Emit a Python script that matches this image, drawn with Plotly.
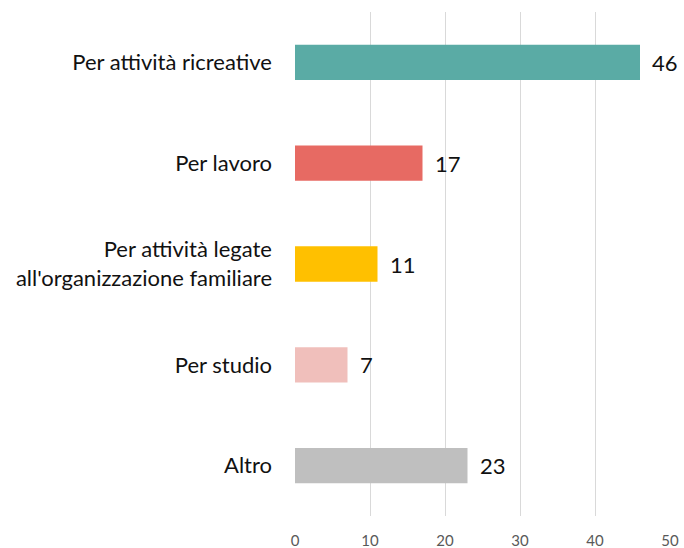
import plotly.graph_objects as go

categories = ["Per attività ricreative", "Per lavoro",
              "Per attività legate<br>all'organizzazione familiare",
              "Per studio", "Altro"]
values = [46, 17, 11, 7, 23]
colors = ["#5AABA5", "#E76A63", "#FFC000", "#F0BFBB", "#BFBFBF"]
x_ticks = [0, 10, 20, 30, 40, 50]

fig = go.Figure(go.Bar(
    x=values, y=categories, orientation="h",
    marker=dict(color=colors, line=dict(width=0)),
    width=0.35, hoverinfo="skip",
))

for c, v in zip(categories, values):
    fig.add_annotation(x=v, y=c, text=str(v), showarrow=False,
                       xanchor="left", xshift=10,
                       font=dict(family="Lato, Open Sans, sans-serif", size=22, color="#111"))

fig.update_layout(
    width=684, height=548,
    margin=dict(l=295, r=14, t=12, b=32),
    paper_bgcolor="white", plot_bgcolor="white",
    showlegend=False,
    font=dict(family="Lato, Open Sans, sans-serif"),
    xaxis=dict(range=[0, 50], tickvals=x_ticks, showgrid=True,
               gridcolor="#D9D9D9", gridwidth=1.3, zeroline=False,
               showline=False, ticklabelstandoff=14, automargin=False,
               tickfont=dict(size=15, color="#595959")),
    yaxis=dict(autorange="reversed", showgrid=False, showline=False,
               ticklabelstandoff=22, automargin=False,
               tickfont=dict(size=22, color="#111")),
)
fig.write_html("out.html", config={"displayModeBar": False},
               post_script="document.body.style.margin='0';document.body.style.overflow='hidden';")
